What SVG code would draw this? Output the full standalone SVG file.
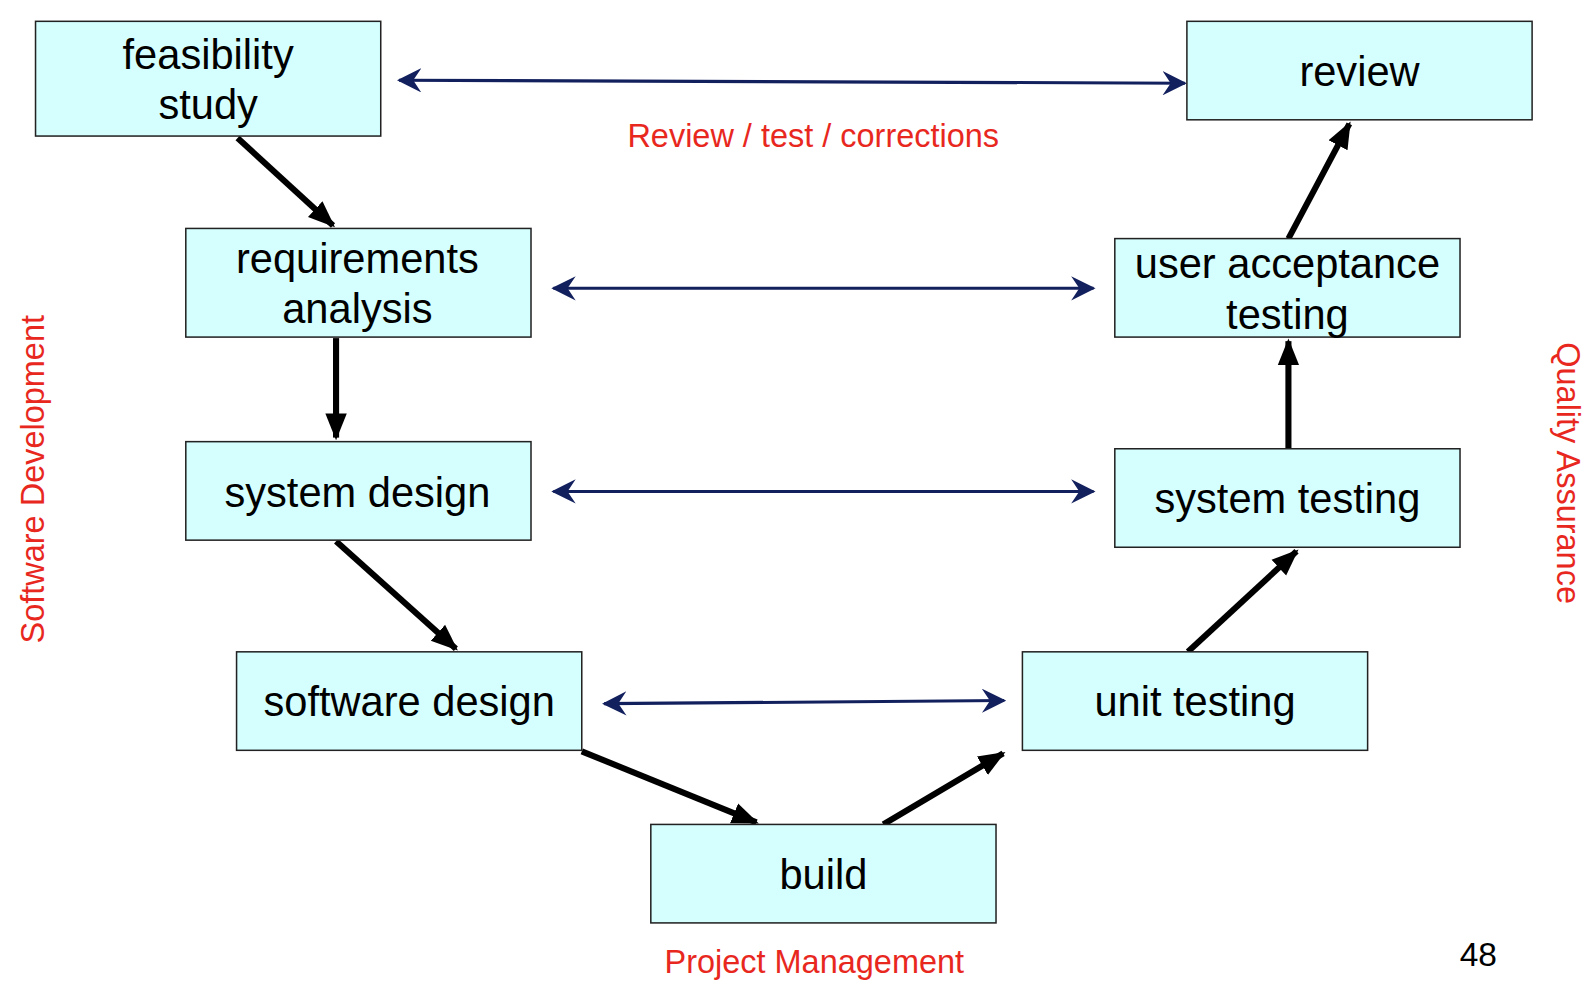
<svg xmlns="http://www.w3.org/2000/svg" width="1592" height="992" viewBox="0 0 1592 992">
<style>
.box{fill:#d5ffff;stroke:#222;stroke-width:1.5}
.t{font-family:"Liberation Sans",Arial,sans-serif;font-size:41px;fill:#000;text-anchor:middle}
.r{font-family:"Liberation Sans",Arial,sans-serif;font-size:32px;fill:#e8281e;text-anchor:middle}
.blk{stroke:#000;stroke-width:6;fill:none;marker-end:url(#ah)}
.blu{stroke:#13205e;stroke-width:3;fill:none;marker-start:url(#bs);marker-end:url(#be)}
</style>
<defs>
<marker id="ah" viewBox="0 0 10 10" refX="9" refY="5" markerWidth="4.4" markerHeight="4.4" orient="auto" markerUnits="strokeWidth">
<path d="M0,1 L10,5 L0,9 Z" fill="#000"/>
</marker>
<marker id="be" viewBox="0 0 12 12" refX="11" refY="6" markerWidth="8" markerHeight="8" orient="auto" markerUnits="strokeWidth">
<path d="M0,0 L12,6 L0,12 L4,6 Z" fill="#13205e"/>
</marker>
<marker id="bs" viewBox="0 0 12 12" refX="1" refY="6" markerWidth="8" markerHeight="8" orient="auto" markerUnits="strokeWidth">
<path d="M12,0 L0,6 L12,12 L8,6 Z" fill="#13205e"/>
</marker>
</defs>
<rect width="1592" height="992" fill="#fff"/>
<g transform="scale(1.01531)">
<g id="connectors">
<line class="blk" x1="234" y1="136" x2="328" y2="222"/>
<line class="blk" x1="331" y1="333" x2="331" y2="431"/>
<line class="blk" x1="331" y1="533" x2="449" y2="639"/>
<line class="blk" x1="573" y1="740" x2="745" y2="810"/>
<line class="blk" x1="870" y1="812" x2="988" y2="742"/>
<line class="blk" x1="1170" y1="642" x2="1277" y2="543"/>
<line class="blk" x1="1269" y1="442" x2="1269" y2="336"/>
<line class="blk" x1="1269" y1="235" x2="1329" y2="122"/>
<line class="blu" x1="393" y1="79" x2="1167" y2="82"/>
<line class="blu" x1="545" y1="284" x2="1077" y2="284"/>
<line class="blu" x1="545" y1="484" x2="1077" y2="484"/>
<line class="blu" x1="595" y1="693" x2="989" y2="690"/>
</g>
<g id="feasibility"><rect class="box" x="35" y="21" width="340" height="113"/><text class="t" x="205" y="68">feasibility</text><text class="t" x="205" y="117">study</text></g>
<g id="requirements"><rect class="box" x="183" y="225" width="340" height="107"/><text class="t" x="352" y="269">requirements</text><text class="t" x="352" y="318">analysis</text></g>
<g id="systemdesign"><rect class="box" x="183" y="435" width="340" height="97"/><text class="t" x="352" y="499">system design</text></g>
<g id="softwaredesign"><rect class="box" x="233" y="642" width="340" height="97"/><text class="t" x="403" y="705">software design</text></g>
<g id="build"><rect class="box" x="641" y="812" width="340" height="97"/><text class="t" x="811" y="876">build</text></g>
<g id="unittesting"><rect class="box" x="1007" y="642" width="340" height="97"/><text class="t" x="1177" y="705">unit testing</text></g>
<g id="systemtesting"><rect class="box" x="1098" y="442" width="340" height="97"/><text class="t" x="1268" y="505">system testing</text></g>
<g id="uat"><rect class="box" x="1098" y="235" width="340" height="97"/><text class="t" x="1268" y="274">user acceptance</text><text class="t" x="1268" y="324">testing</text></g>
<g id="review"><rect class="box" x="1169" y="21" width="340" height="97"/><text class="t" x="1339" y="85">review</text></g>
<g id="labels">
<text class="r" x="801" y="145">Review / test / corrections</text>
<text class="r" x="802" y="958">Project Management</text>
<text class="r" transform="translate(43,472) rotate(-90)">Software Development</text>
<text class="r" transform="translate(1534,466) rotate(90)">Quality Assurance</text>
<text x="1456" y="951" font-family="Liberation Sans,Arial,sans-serif" font-size="33" text-anchor="middle" fill="#000">48</text>
</g>
</g>
</svg>
